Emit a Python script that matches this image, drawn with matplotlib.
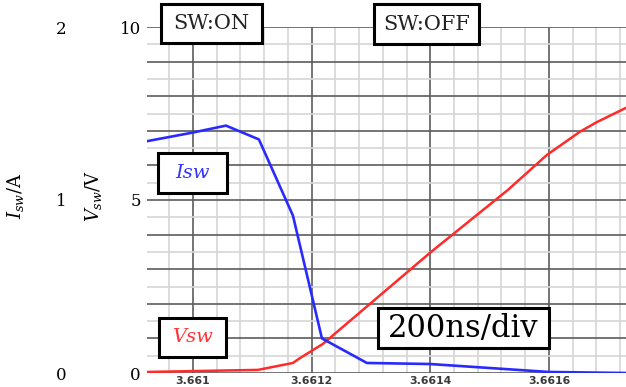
import numpy as np
import matplotlib.pyplot as plt
from matplotlib.patches import Rectangle
from matplotlib.ticker import FixedLocator, FixedFormatter, MultipleLocator

# switch current (A) and switch voltage (V)
t_isw = [3.6609225, 3.661, 3.6610556, 3.6611112, 3.6611685, 3.6612174,
         3.6612932, 3.6613993, 3.6615998, 3.66173]
isw = [1.34, 1.39, 1.43, 1.35, 0.91, 0.20, 0.058, 0.052, 0.006, 0.0]

t_vsw = [3.6609225, 3.6611095, 3.6611685, 3.6611803, 3.661219, 3.6613993,
         3.6615308, 3.6615965, 3.6616521, 3.6616807, 3.6617296]
vsw = [0.03, 0.09, 0.29, 0.43, 0.84, 3.47, 5.29, 6.30, 6.97, 7.25, 7.66]

x_ticks = [3.6610, 3.6612, 3.6614, 3.6616]
x_labels = ['3.661', '3.6612', '3.6614', '3.6616']
v_ticks = [0, 5, 10]
i_ticks = [0, 1, 2]

W, H = 626, 387
serif = 'DejaVu Serif'
plt.rcParams['mathtext.fontset'] = 'dejavuserif'

fig = plt.figure(figsize=(W / 100, H / 100), dpi=100)
ax = fig.add_axes([147 / W, (H - 373) / H, 1 - 147 / W, 346 / H])

ax.set_xlim(3.6609225, 3.66173)
ax.set_ylim(0, 10)

ax.xaxis.set_major_locator(FixedLocator(x_ticks))
ax.xaxis.set_major_formatter(FixedFormatter(x_labels))
ax.xaxis.set_minor_locator(MultipleLocator(0.00004))
ax.yaxis.set_major_locator(MultipleLocator(1))
ax.yaxis.set_major_formatter(plt.FuncFormatter(lambda v, p: '%d' % v if round(v) in v_ticks else ''))
ax.yaxis.set_minor_locator(MultipleLocator(0.5))

ax.grid(which='minor', color='#d6d6d6', lw=1.2)
ax.grid(which='major', color='#5c5c5c', lw=1.2)
ax.set_axisbelow(True)
for s in ax.spines.values():
    s.set_visible(False)
ax.tick_params(which='both', length=0)
ax.tick_params(axis='x', pad=2.5, labelsize=7.8, labelcolor='#3a3a3a')
for lab in ax.get_xticklabels():
    lab.set_fontweight('bold')
ax.tick_params(axis='y', pad=4.5, labelsize=12)
for lab in ax.get_yticklabels():
    lab.set_fontfamily(serif)

ax.plot(t_vsw, vsw, color='#ff2a2a', lw=1.8, zorder=3)

ax2 = ax.twinx()
ax2.set_ylim(0, 2)
ax2.yaxis.set_ticks_position('left')
ax2.set_yticks(i_ticks)
ax2.tick_params(length=0, pad=58, labelsize=12)
for lab in ax2.get_yticklabels():
    lab.set_fontfamily(serif)
for s in ax2.spines.values():
    s.set_visible(False)
ax2.plot(t_isw, isw, color='#2a2aff', lw=1.9, zorder=3)

fig.text(15 / W, 1 - 196 / H, r'$I_{sw}$/A', rotation=90, ha='center', va='center',
         fontsize=13, family=serif)
fig.text(94 / W, 1 - 196 / H, r'$V_{sw}$/V', rotation=90, ha='center', va='center',
         fontsize=13, family=serif)


def box(x0, y0, x1, y1, text, size, color='#222222', style='normal'):
    fig.add_artist(Rectangle((x0 / W, 1 - y1 / H), (x1 - x0) / W, (y1 - y0) / H,
                             transform=fig.transFigure, facecolor='white',
                             edgecolor='black', lw=2.2, zorder=10))
    fig.text((x0 + x1) / 2 / W, 1 - (y0 + y1) / 2 / H, text, ha='center', va='center',
             fontsize=size, color=color, style=style, family=serif, zorder=11)


box(161, 4, 262, 43, 'SW:ON', 15)
box(374, 4, 479, 44, 'SW:OFF', 15)
box(158, 153, 227, 193, 'Isw', 14, color='#3333ff', style='italic')
box(159, 318, 226, 357, 'Vsw', 14, color='#ff3333', style='italic')
box(378, 308, 549, 348, '200ns/div', 22, color='black')

fig.savefig('out.png', dpi=100)
